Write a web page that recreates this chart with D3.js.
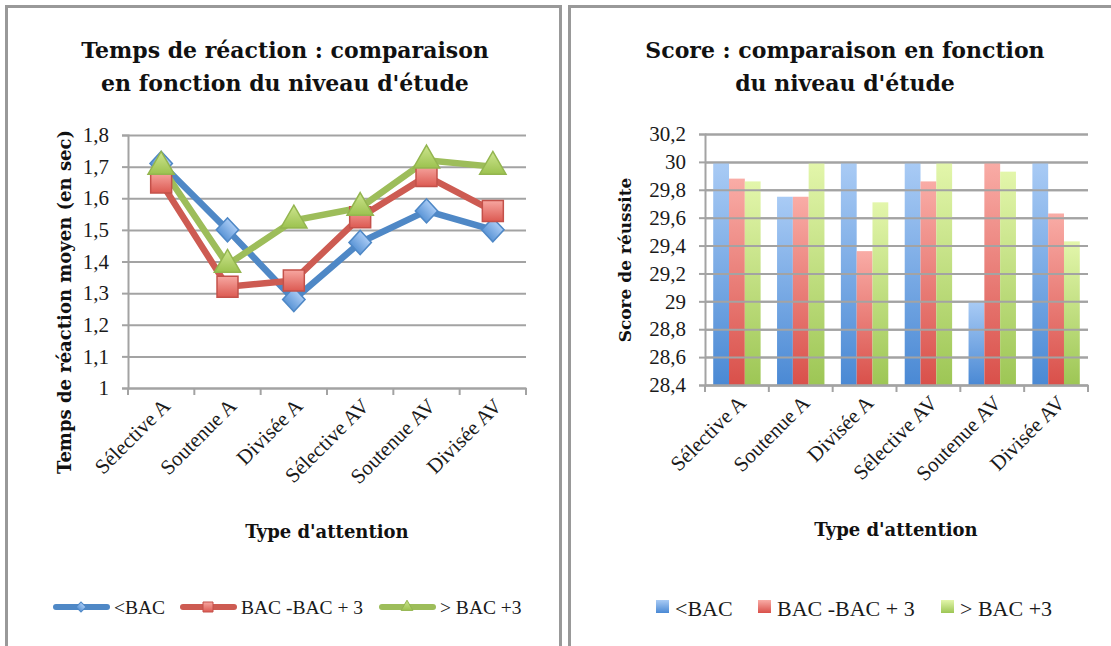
<!DOCTYPE html>
<html><head><meta charset="utf-8">
<script src="https://cdn.jsdelivr.net/npm/d3@7"></script>
<style>
body{margin:0;background:#fff;}
svg text{font-family:"Liberation Serif",serif;fill:#1a1a1a;}
svg text.b{font-family:"DejaVu Serif",serif;font-weight:bold;fill:#111;}
</style></head>
<body>
<svg id="c" width="1111" height="646"></svg>
<script>
const categories = ["Sélective A","Soutenue A","Divisée A","Sélective AV","Soutenue AV","Divisée AV"];
const seriesNames = ["<BAC","BAC -BAC + 3","> BAC +3"];
const timeLow  = [1.71,1.50,1.28,1.46,1.56,1.50];
const timeMid  = [1.65,1.32,1.34,1.54,1.67,1.56];
const timeHigh = [1.70,1.39,1.53,1.57,1.72,1.70];
const scoreLow  = [30.00,29.75,30.00,30.00,29.00,30.00];
const scoreMid  = [29.88,29.75,29.36,29.86,30.00,29.63];
const scoreHigh = [29.86,30.00,29.71,30.00,29.93,29.43];
const timeTicks = [1,1.1,1.2,1.3,1.4,1.5,1.6,1.7,1.8];
const scoreTicks = [28.4,28.6,28.8,29,29.2,29.4,29.6,29.8,30,30.2];

const svg = d3.select("#c");
const fmt = d => String(+d.toFixed(1)).replace(".", ",");
const lineCol = ["#4f88c6","#cd5b52","#9dbd5a"];
const gridCol = "#a3a3a3";

svg.append("rect").attr("x",6.5).attr("y",6.5).attr("width",554).attr("height",700)
  .attr("fill","none").attr("stroke","#999").attr("stroke-width",3);
svg.append("rect").attr("x",569.5).attr("y",6.5).attr("width",600).attr("height",700)
  .attr("fill","none").attr("stroke","#999").attr("stroke-width",3);

const defs = svg.append("defs");
function grad(id, top, bottom){
  const g = defs.append("linearGradient").attr("id",id).attr("x1",0).attr("y1",0).attr("x2",0).attr("y2",1);
  g.append("stop").attr("offset","0%").attr("stop-color",top);
  g.append("stop").attr("offset","100%").attr("stop-color",bottom);
}
grad("gb","#a9cbf5","#4a89d4");
grad("gr","#f9aca6","#d9504a");
grad("gg","#e3f6ab","#9dc655");
grad("mb","#a9cbf5","#5b95d6");
grad("mr","#f7a7a1","#dc5a52");
grad("mg","#cde58f","#9cc24f");

function titleText(cx, lines){
  lines.forEach((l,i)=>svg.append("text").attr("class","b").attr("x",cx).attr("y",58+i*33)
    .attr("text-anchor","middle").attr("font-size",22).text(l));
}

function axesFor(x, y, left, right, top, bottom, ticks){
  svg.append("g").attr("transform",`translate(${left},0)`)
    .call(d3.axisLeft(y).tickValues(ticks).tickSize(-(right-left)).tickFormat(""))
    .call(s=>{s.select(".domain").remove();s.selectAll("line").attr("stroke",gridCol).attr("stroke-width",2);});
  svg.append("g").attr("transform",`translate(${left},0)`)
    .call(d3.axisLeft(y).tickValues(ticks).tickSize(6).tickFormat(fmt).tickPadding(13))
    .call(s=>{s.select(".domain").attr("stroke",gridCol).attr("stroke-width",2);
      s.selectAll("line").attr("stroke",gridCol).attr("stroke-width",2);
      s.selectAll("text").attr("font-size",21).style("font-family","'Liberation Serif', serif").attr("fill","#222");});
  svg.append("g").attr("transform",`translate(0,${bottom})`)
    .call(d3.axisBottom(x).tickSize(0).tickFormat(""))
    .call(s=>{s.select(".domain").attr("stroke",gridCol).attr("stroke-width",2);});
  svg.selectAll(null).data(categories.map(c=>x(c)).concat([right])).enter().append("line")
    .attr("x1",d=>d).attr("x2",d=>d).attr("y1",bottom).attr("y2",bottom+7).attr("stroke",gridCol).attr("stroke-width",2);
  svg.selectAll(null).data(categories).enter().append("text")
    .attr("transform",d=>`translate(${x(d)+x.bandwidth()/2+5},${bottom+14}) rotate(-45)`)
    .attr("text-anchor","end").attr("dy","0.35em").attr("font-size",21).attr("fill","#222").text(d=>d);
}

// ---------- left: line chart ----------
{
  const left=128, right=526, top=135, bottom=388;
  const x = d3.scaleBand().domain(categories).range([left,right]).padding(0);
  const y = d3.scaleLinear().domain([1,1.8]).range([bottom,top]);
  titleText(285,["Temps de réaction : comparaison","en fonction du niveau d'étude"]);
  axesFor(x,y,left,right,top,bottom,timeTicks);
  svg.append("text").attr("class","b").attr("transform",`translate(71,302) rotate(-90)`)
    .attr("text-anchor","middle").attr("font-size",18).text("Temps de réaction moyen (en sec)");
  svg.append("text").attr("class","b").attr("x",327).attr("y",538).attr("text-anchor","middle")
    .attr("font-size",18).text("Type d'attention");
  const data=[timeLow,timeMid,timeHigh];
  const cx = i => x(categories[i])+x.bandwidth()/2;
  const line = d3.line().x((d,i)=>cx(i)).y(d=>y(d));
  data.forEach((s,k)=>{
    svg.append("path").datum(s).attr("d",line).attr("fill","none").attr("stroke",lineCol[k])
      .attr("stroke-width",6.5).attr("stroke-linejoin","round");
  });
  const shapes=[d3.symbolSquare, d3.symbolSquare, d3.symbolTriangle];
  const sizes=[250,440,300];
  const rot=[" rotate(45)","",""];
  const fills=["url(#mb)","url(#mr)","url(#mg)"];
  const strokes=["#4f88c6","#c4514a","#93b54f"];
  data.forEach((s,k)=>{
    svg.selectAll(null).data(s).enter().append("path")
      .attr("d",d3.symbol().type(shapes[k]).size(sizes[k]))
      .attr("transform",(d,i)=>`translate(${cx(i)},${y(d)})`+(k===0?" scale(1,1.08)":"")+rot[k])
      .attr("fill",fills[k]).attr("stroke",strokes[k]).attr("stroke-width",1.5);
  });
  const lg=[{x:53,tx:114},{x:180,tx:241},{x:379,tx:440}];
  lg.forEach((p,k)=>{
    svg.append("line").attr("x1",p.x+3).attr("x2",p.x+54).attr("y1",607).attr("y2",607)
      .attr("stroke",lineCol[k]).attr("stroke-width",6).attr("stroke-linecap","round");
    svg.append("path").attr("d",d3.symbol().type(shapes[k]).size(k===1?100:(k===0?50:60)))
      .attr("transform",`translate(${p.x+28},607)`+rot[k]).attr("fill",fills[k]).attr("stroke",strokes[k]);
    svg.append("text").attr("x",p.tx).attr("y",614).attr("font-size",19.5).attr("fill","#222").text(seriesNames[k]);
  });
}

// ---------- right: bar chart ----------
{
  const left=705, right=1088, top=134, bottom=385;
  const x = d3.scaleBand().domain(categories).range([left,right]).padding(0);
  const y = d3.scaleLinear().domain([28.4,30.2]).range([bottom,top]);
  titleText(845,["Score : comparaison en fonction","du niveau d'étude"]);
  const xs = d3.scaleBand().domain([0,1,2]).range([0,x.bandwidth()]).paddingOuter(0.52).paddingInner(0);
  const data=[scoreLow,scoreMid,scoreHigh];
  const gf=["url(#gb)","url(#gr)","url(#gg)"];
  svg.append("g").attr("transform",`translate(${left},0)`)
    .call(d3.axisLeft(y).tickValues(scoreTicks).tickSize(-(right-left)).tickFormat(""))
    .call(s=>{s.select(".domain").remove();s.selectAll("line").attr("stroke",gridCol).attr("stroke-width",2);});
  data.forEach((s,k)=>{
    svg.selectAll(null).data(s).enter().append("rect")
      .attr("x",(d,i)=>x(categories[i])+xs(k)).attr("width",xs.bandwidth())
      .attr("y",d=>y(d)).attr("height",d=>bottom-y(d)).attr("fill",gf[k]);
  });
  axesFor(x,y,left,right,top,bottom,scoreTicks);
  svg.append("text").attr("class","b").attr("transform",`translate(631,260) rotate(-90)`)
    .attr("text-anchor","middle").attr("font-size",17).text("Score de réussite");
  svg.append("text").attr("class","b").attr("x",896).attr("y",536).attr("text-anchor","middle")
    .attr("font-size",18).text("Type d'attention");
  const lg=[{x:656,tx:675},{x:758,tx:777},{x:941,tx:960}];
  lg.forEach((p,k)=>{
    svg.append("rect").attr("x",p.x).attr("y",600).attr("width",13).attr("height",13).attr("fill",gf[k]);
    svg.append("text").attr("x",p.tx).attr("y",616).attr("font-size",22).attr("fill","#222").text(seriesNames[k]);
  });
}
</script></body></html>
